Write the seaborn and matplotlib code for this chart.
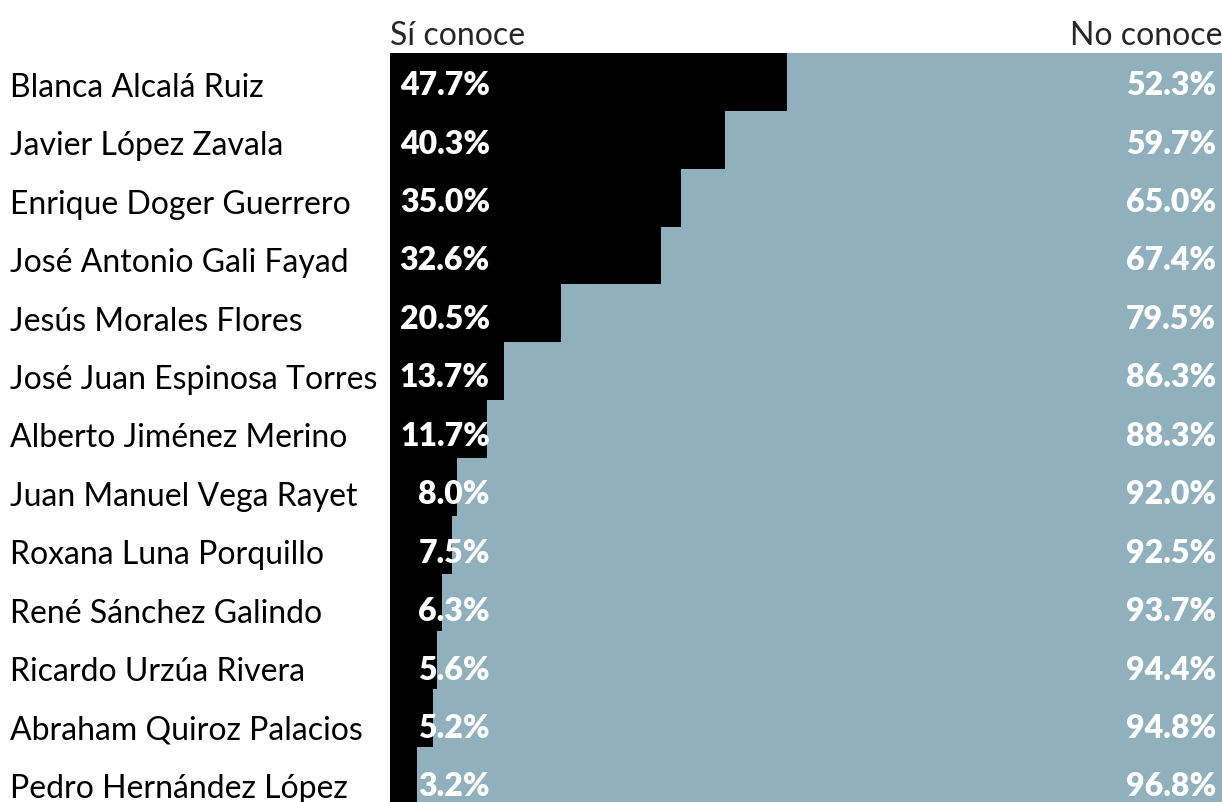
import pandas as pd
import matplotlib.pyplot as plt
import matplotlib.transforms as mtransforms
import seaborn as sns

# Datos
nombres = ['Blanca Alcalá Ruiz', 'Javier López Zavala', 'Enrique Doger Guerrero',
           'José Antonio Gali Fayad', 'Jesús Morales Flores', 'José Juan Espinosa Torres',
           'Alberto Jiménez Merino', 'Juan Manuel Vega Rayet', 'Roxana Luna Porquillo',
           'René Sánchez Galindo', 'Ricardo Urzúa Rivera', 'Abraham Quiroz Palacios',
           'Pedro Hernández López']
si_conoce = [47.7, 40.3, 35.0, 32.6, 20.5, 13.7, 11.7, 8.0, 7.5, 6.3, 5.6, 5.2, 3.2]
no_conoce = [52.3, 59.7, 65.0, 67.4, 79.5, 86.3, 88.3, 92.0, 92.5, 93.7, 94.4, 94.8, 96.8]

df = pd.DataFrame({'nombre': nombres, 'si': si_conoce, 'no': no_conoce})
df['total'] = df['si'] + df['no']

sns.set_style('white')
plt.rcParams['font.family'] = ['Lato', 'DejaVu Sans']

fig = plt.figure(figsize=(12.22, 8.03), dpi=100)
# filas de ~57.8 px, la última queda un poco cortada abajo
ax = fig.add_axes([390 / 1222, -3 / 803, 1 - 390 / 1222, 752 / 803])

sns.barplot(data=df, y='nombre', x='total', color='#8fb0bc', width=1.0,
            saturation=1, orient='h', linewidth=0, ax=ax)
sns.barplot(data=df, y='nombre', x='si', color='black', width=1.0,
            saturation=1, orient='h', linewidth=0, ax=ax)

ax.set_xlim(0, 100)
ax.set_ylim(len(df) - 0.5, -0.5)
ax.set_xlabel('')
ax.set_ylabel('')
ax.set_xticks([])
ax.set_yticks([])
sns.despine(ax=ax, left=True, bottom=True)

# Etiquetas (el texto va algo más espaciado que las barras)
trans = mtransforms.blended_transform_factory(fig.transFigure, ax.transData)
for i, row in df.iterrows():
    y = i + 0.21 + 0.0104 * i
    ax.text(10 / 1222, y + 0.03, row['nombre'], transform=trans, ha='left', va='baseline',
            fontsize=23, color='black')
    ax.text(12.0, y, f"{row['si']:.1f}%", ha='right', va='baseline',
            fontsize=23, fontweight='heavy', color='white')
    ax.text(99.3, y, f"{row['no']:.1f}%", ha='right', va='baseline',
            fontsize=23, fontweight='heavy', color='white')

fig.text(390 / 1222, 1 - 45 / 803, 'Sí conoce', ha='left', va='baseline', fontsize=23)
fig.text(1.0, 1 - 45 / 803, 'No conoce', ha='right', va='baseline', fontsize=23)

fig.savefig('out.png', dpi=100)
